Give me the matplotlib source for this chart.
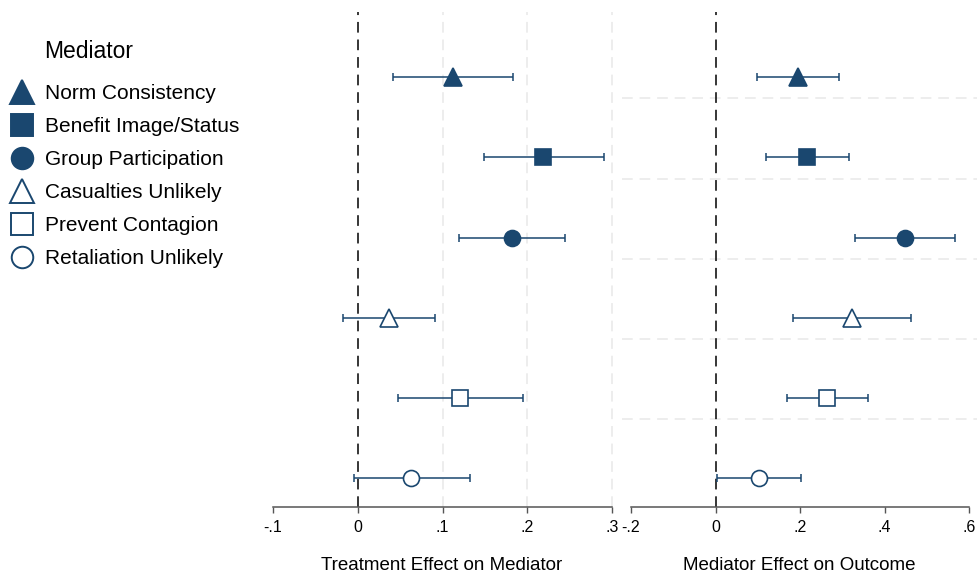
import matplotlib
matplotlib.use("Agg")
import matplotlib.pyplot as plt
from matplotlib.lines import Line2D

plt.rcParams['font.family'] = ['Liberation Sans', 'DejaVu Sans']

mediators = ['Norm Consistency', 'Benefit Image/Status', 'Group Participation',
             'Casualties Unlikely', 'Prevent Contagion', 'Retaliation Unlikely']
markers = ['^', 's', 'o', '^', 's', 'o']
filled = [True, True, True, False, False, False]

# treatment effect on mediator (estimate, lower, upper)
treat_est = [0.112, 0.219, 0.182, 0.037, 0.121, 0.063]
treat_lo = [0.042, 0.149, 0.120, -0.017, 0.047, -0.005]
treat_hi = [0.183, 0.290, 0.244, 0.091, 0.195, 0.133]

# mediator effect on outcome (estimate, lower, upper)
med_est = [0.195, 0.216, 0.448, 0.322, 0.264, 0.103]
med_lo = [0.097, 0.118, 0.329, 0.182, 0.169, 0.004]
med_hi = [0.293, 0.316, 0.567, 0.463, 0.360, 0.201]

left_ticks = [-0.1, 0, 0.1, 0.2, 0.3]
left_labels = ['-.1', '0', '.1', '.2', '.3']
right_ticks = [-0.2, 0, 0.2, 0.4, 0.6]
right_labels = ['-.2', '0', '.2', '.4', '.6']

navy = '#1a476f'
W, H = 977, 574
fig = plt.figure(figsize=(W / 100, H / 100), dpi=100)
axL = fig.add_axes([262 / W, 67 / H, 360 / W, 495 / H])
axR = fig.add_axes([622 / W, 67 / H, 355 / W, 495 / H])

rows = list(range(1, len(mediators) + 1))


def draw_panel(ax, est, lo, hi, ticks, labels, xlim, xlabel):
    ax.axvline(0, color='black', lw=1.1, dashes=(7, 4.5), zorder=2)
    for i in range(len(mediators)):
        ax.errorbar(est[i], rows[i], xerr=[[est[i] - lo[i]], [hi[i] - est[i]]],
                    fmt='none', ecolor=navy, elinewidth=1.1, capsize=3,
                    capthick=1.1, zorder=3)
        size = 13.5 if markers[i] == '^' else 11.5
        ax.plot(est[i], rows[i], marker=markers[i], ms=size, mew=1.2,
                mec=navy, mfc=navy if filled[i] else 'white', ls='none',
                zorder=4)
    ax.set_xlim(*xlim)
    ax.set_ylim(6.355, 0.19)
    ax.set_xticks(ticks)
    ax.set_xticklabels(labels, fontsize=11.5)
    ax.set_yticks([])
    for s in ['top', 'right', 'left']:
        ax.spines[s].set_visible(False)
    ax.spines['bottom'].set_bounds(ticks[0], ticks[-1])
    ax.spines['bottom'].set_color('#555555')
    ax.spines['bottom'].set_linewidth(1.1)
    ax.tick_params(axis='x', direction='out', length=4, width=1.0,
                   color='#555555', pad=5)
    ax.set_xlabel(xlabel, fontsize=13.5, labelpad=16)
    ax.patch.set_alpha(0)


draw_panel(axL, treat_est, treat_lo, treat_hi, left_ticks, left_labels,
           (-0.113, 0.3118), 'Treatment Effect on Mediator')
draw_panel(axR, med_est, med_lo, med_hi, right_ticks, right_labels,
           (-0.2214, 0.6182), 'Mediator Effect on Outcome')

# light dashed grid: vertical on the left panel, horizontal on the right
for x in [0.1, 0.2, 0.3]:
    axL.axvline(x, color='#e8e8e8', lw=1.1, dashes=(7, 4.5), zorder=1)
for k in rows[:-1]:
    axR.axhline(k + 0.265, color='#e8e8e8', lw=1.1, dashes=(7, 4.5), zorder=1)

# legend
handles = [Line2D([], [], marker=m, ls='none', ms=17.5 if m == '^' else 15.5,
                  mew=1.4, mec=navy, mfc=navy if f else 'white')
           for m, f in zip(markers, filled)]
fig.text(44 / W, 1 - 52 / H, 'Mediator', fontsize=16.5, va='center', ha='left')
fig.legend(handles, mediators, loc='upper left',
           bbox_to_anchor=(10 / W, 1 - 84 / H), frameon=False, fontsize=15,
           handlelength=1.15, handletextpad=0.53, labelspacing=0.67,
           borderpad=0, borderaxespad=0)

fig.savefig('out.png', dpi=100)
